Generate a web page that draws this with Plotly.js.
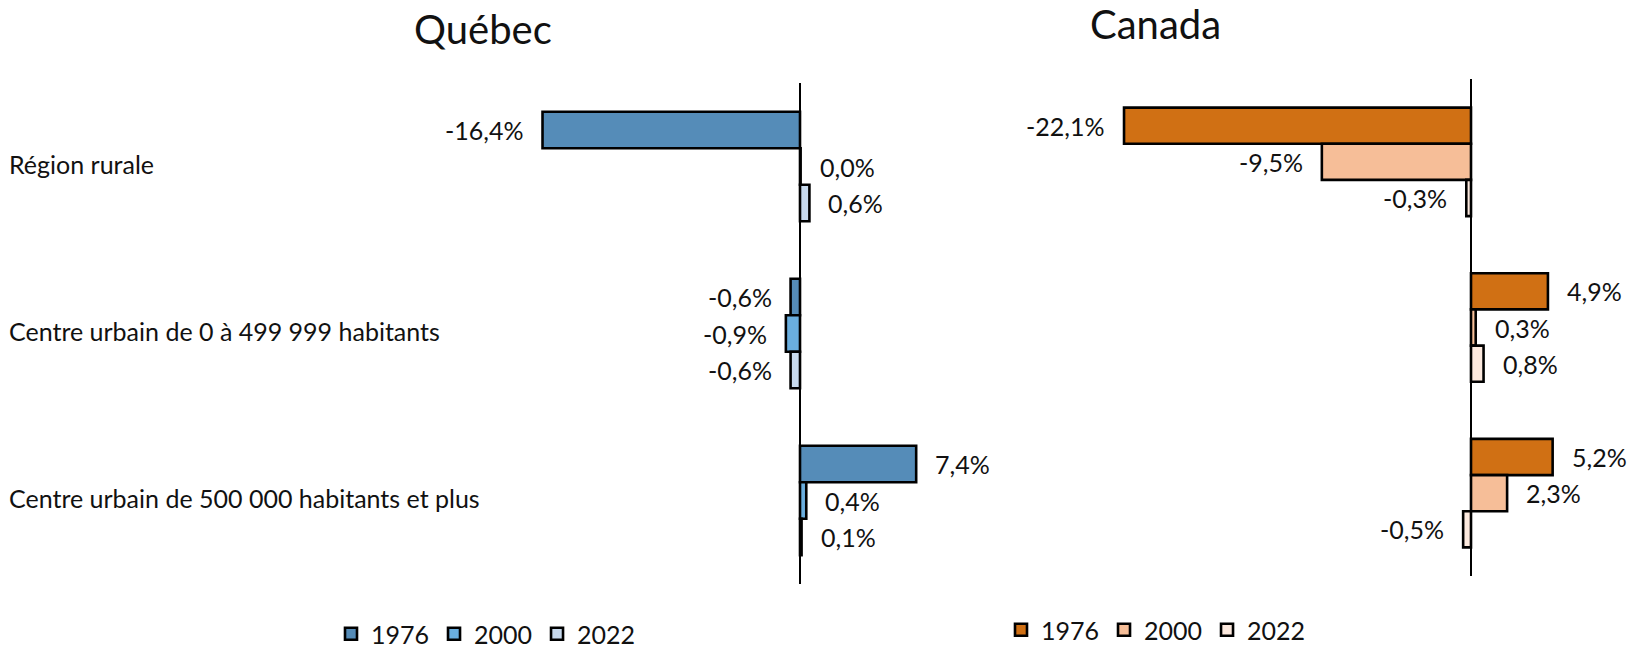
<!DOCTYPE html>
<html>
<head>
<meta charset="utf-8">
<script src="https://cdn.plot.ly/plotly-3.0.1.min.js"></script>
<style>html,body{margin:0;padding:0;background:#fff;}#chart{width:1629px;height:648px;}</style>
</head>
<body>
<div id="chart"></div>
<script>
// ---- Data ----
const categories = ["Région rurale", "Centre urbain de 0 à 499 999 habitants", "Centre urbain de 500 000 habitants et plus"];
const years = ["1976", "2000", "2022"];
const quebec1976 = [-16.4, -0.6, 7.4];
const quebec2000 = [0.04, -0.9, 0.4];
const quebec2022 = [0.6, -0.6, 0.1];
const canada1976 = [-22.1, 4.9, 5.2];
const canada2000 = [-9.5, 0.3, 2.3];
const canada2022 = [-0.3, 0.8, -0.5];
const panelTitles = ["Québec", "Canada"];

// ---- Styles ----
const FONT = "Lato, 'Open Sans', sans-serif";
const quebecColors = ["#558CB8", "#6AAEDE", "#C8DAEE"];
const canadaColors = ["#D07014", "#F6BE98", "#FCE9DE"];
const BARGAP = 0.345;
const barFrac = (1 - BARGAP) / 3;
const LABEL_GAP = 17;

const fmt = v => v.toFixed(1).replace('.', ',') + '%';
const yIdx = categories.map((c, i) => i);

const traces = [];
const annotations = [];

function addPanel(seriesList, colors, xa, ya, legendId) {
  seriesList.forEach((vals, s) => {
    traces.push({
      type: 'bar', orientation: 'h',
      x: vals, y: yIdx,
      name: years[s],
      xaxis: xa, yaxis: ya,
      legend: legendId,
      marker: {color: colors[s], line: {color: '#000', width: 2.6}},
      hoverinfo: 'x+name'
    });
    vals.forEach((v, i) => {
      const pos = v >= 0;
      annotations.push({
        xref: xa, yref: ya,
        x: v, y: i + (s - 1) * barFrac,
        text: fmt(v), showarrow: false,
        xanchor: pos ? 'left' : 'right', yanchor: 'middle',
        xshift: pos ? LABEL_GAP : -LABEL_GAP,
        font: {family: FONT, size: 25, color: '#111'}
      });
    });
  });
}

addPanel([quebec1976, quebec2000, quebec2022], quebecColors, 'x', 'y', 'legend');
addPanel([canada1976, canada2000, canada2022], canadaColors, 'x2', 'y2', 'legend2');

categories.forEach((c, i) => {
  annotations.push({
    xref: 'paper', yref: 'y', x: 0.004, y: i, yshift: 3,
    text: c, showarrow: false, xanchor: 'left', yanchor: 'middle',
    font: {family: FONT, size: 25, color: '#111'}
  });
});

annotations.push({xref: 'paper', yref: 'paper', x: 483/1629, y: 1 - 29/648, text: panelTitles[0],
  showarrow: false, xanchor: 'center', yanchor: 'middle', font: {family: FONT, size: 40, color: '#111'}});
annotations.push({xref: 'paper', yref: 'paper', x: 1155/1629, y: 1 - 24/648, text: panelTitles[1],
  showarrow: false, xanchor: 'center', yanchor: 'middle', font: {family: FONT, size: 40, color: '#111'}});

const xCommon = {showgrid: false, showticklabels: false, ticks: '', showline: false,
  zeroline: true, zerolinecolor: '#000', zerolinewidth: 2, fixedrange: true};
const yCommon = {showgrid: false, showticklabels: false, ticks: '', showline: false, zeroline: false,
  range: [2.5, -0.5], fixedrange: true};

const legendCommon = {orientation: 'h', font: {family: FONT, size: 25, color: '#111'},
  xanchor: 'center', yanchor: 'middle', bgcolor: 'rgba(0,0,0,0)', traceorder: 'normal'};

const layout = {
  width: 1629, height: 648,
  margin: {l: 0, r: 0, t: 0, b: 0, autoexpand: false},
  paper_bgcolor: '#fff', plot_bgcolor: '#fff',
  barmode: 'group', bargap: BARGAP, bargroupgap: 0,
  showlegend: true,
  xaxis: Object.assign({}, xCommon, {domain: [486/1629, 957/1629], range: [-20, 10], anchor: 'y'}),
  yaxis: Object.assign({}, yCommon, {domain: [1 - 584/648, 1 - 83/648], anchor: 'x'}),
  xaxis2: Object.assign({}, xCommon, {domain: [1078.5/1629, 1628/1629], range: [-25, 10], anchor: 'y2'}),
  yaxis2: Object.assign({}, yCommon, {domain: [1 - 576/648, 1 - 79/648], anchor: 'x2'}),
  legend: Object.assign({}, legendCommon, {x: 486/1629, y: 1 - 634/648}),
  legend2: Object.assign({}, legendCommon, {x: 1156/1629, y: 1 - 630/648}),
  annotations: annotations,
  font: {family: FONT}
};

Plotly.newPlot('chart', traces, layout, {displayModeBar: false, staticPlot: true});
</script>
</body>
</html>
